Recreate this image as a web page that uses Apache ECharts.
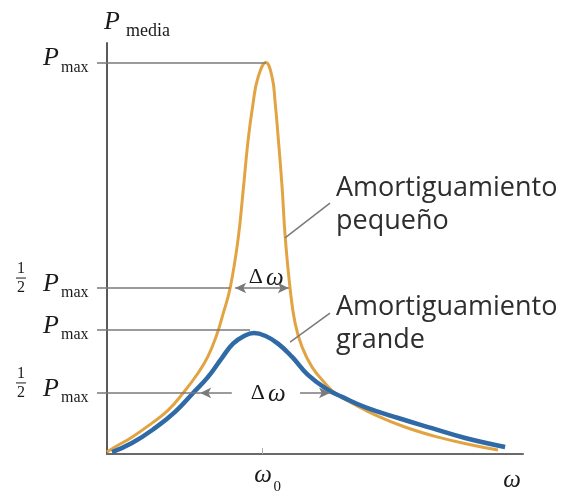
<!DOCTYPE html>
<html>
<head>
<meta charset="utf-8">
<script src="https://cdn.jsdelivr.net/npm/echarts@6/dist/echarts.min.js"></script>
<style>
html,body{margin:0;padding:0;background:#fff;}
#c{width:566px;height:495px;}
</style>
</head>
<body>
<div id="c"></div>
<script>
// ---- data (x: 0..100 frequency units, y: 0..1 = orange P_max) ----
const omega0 = 37.3;
const omegaEnd = 97.4;
const smallDamping = [[0,0.005],[1.9,0.018],[6.0,0.043],[10.8,0.079],[14.7,0.112],[18.3,0.156],[21.9,0.207],[24.3,0.250],[26.4,0.305],[27.9,0.358],[29.6,0.424],[31.5,0.548],[32.7,0.670],[33.9,0.800],[35.1,0.895],[36.3,0.962],[38.2,1.0],[39.7,0.962],[40.4,0.900],[41.1,0.815],[42.1,0.680],[42.8,0.560],[44.0,0.424],[45.2,0.335],[46.9,0.273],[49.3,0.222],[52.4,0.181],[54.8,0.156],[58.9,0.130],[64.4,0.100],[71.6,0.069],[79.6,0.043],[87.7,0.023],[94.0,0.010]];
const largeDamping = [[1.2,0.005],[6.0,0.028],[11.5,0.066],[16.3,0.107],[20.7,0.156],[24.3,0.197],[27.6,0.245],[30.3,0.282],[33.2,0.303],[35.3,0.309],[38.0,0.302],[41.1,0.282],[44.5,0.248],[48.3,0.202],[53.1,0.164],[56.5,0.146],[62.0,0.120],[70.0,0.092],[78.1,0.066],[86.1,0.041],[95.7,0.018]];
const yTickValues = [1.0, 0.424, 0.317, 0.156];
const yTickHalf = [false, true, false, true];
const yTickRefEnd = [38.2, 29.6, 34.4, 22.4];
const smallHalfArrow = [30.8, 43.7];
const largeHalfArrowL = [22.4, 30.0];
const largeHalfArrowR = [46.4, 53.6];
const deltaLabelSmall = [38.2, 0.424];
const deltaLabelLarge = [38.7, 0.156];
const leaderSmall = [[42.8,0.552],[53.6,0.641]];
const leaderLarge = [[44.0,0.286],[53.6,0.360]];
const labelSmallAt = [54.8, 0.72];
const labelLargeAt = [54.8, 0.418];
const labelSmallText = 'Amortiguamiento\npequeño';
const labelLargeText = 'Amortiguamiento\ngrande';

const refColor = '#7a7a7a';
const serif = '"Liberation Serif","DejaVu Serif",serif';

const markLines = [];
yTickValues.forEach((v,i)=>{
  markLines.push([{coord:[0,v],symbol:'none'},{coord:[yTickRefEnd[i],v],symbol:'none'}]);
});
markLines.push([{coord:[smallHalfArrow[0],0.424],symbol:'arrow'},{coord:[smallHalfArrow[1],0.424],symbol:'arrow'}]);
markLines.push([{coord:[largeHalfArrowL[0],0.156],symbol:'arrow'},{coord:[largeHalfArrowL[1],0.156],symbol:'none'}]);
markLines.push([{coord:[largeHalfArrowR[0],0.156],symbol:'none'},{coord:[largeHalfArrowR[1],0.156],symbol:'arrow'}]);
markLines.push([{coord:leaderSmall[0],symbol:'none'},{coord:leaderSmall[1],symbol:'none'}]);
markLines.push([{coord:leaderLarge[0],symbol:'none'},{coord:leaderLarge[1],symbol:'none'}]);

const chart = echarts.init(document.getElementById('c'), null, {renderer:'canvas'});
chart.setOption({
  animation:false,
  backgroundColor:'#fff',
  grid:{left:107,right:43,top:43,bottom:41},
  xAxis:{type:'value',min:0,max:100,
    axisLine:{show:true,lineStyle:{color:'#6a6a6a',width:2}},
    axisTick:{show:true,inside:true,length:6,customValues:[omega0],lineStyle:{color:'#aaa',width:1}},
    axisLabel:{show:false},splitLine:{show:false}},
  yAxis:{type:'value',min:0,max:1.05,
    axisLine:{show:true,lineStyle:{color:'#5a5a5a',width:2}},
    axisTick:{show:true,inside:false,length:10,customValues:yTickValues,lineStyle:{color:refColor,width:1.5}},
    axisLabel:{show:false},splitLine:{show:false}},
  series:[
    {type:'line',data:[],silent:true,
      markLine:{silent:true,symbolSize:[8,11],label:{show:false},
        lineStyle:{color:refColor,width:1.5,type:'solid'},data:markLines}},
    {type:'line',data:smallDamping,smooth:0.45,symbol:'none',z:3,
      lineStyle:{color:'#E2A443',width:3}},
    {type:'line',data:largeDamping,smooth:0.45,symbol:'none',z:4,
      lineStyle:{color:'#2F6AA6',width:4.5}}
  ]
});

function px(p){return chart.convertToPixel({xAxisIndex:0,yAxisIndex:0},p);}
const g = [];
const txt = (x,y,text,font,opts)=>Object.assign({type:'text',x:x,y:y,silent:true,
  style:Object.assign({text:text,font:font,fill:'#1a1a1a',align:'left',verticalAlign:'middle'},opts||{})});

// y tick labels
yTickValues.forEach((v,i)=>{
  const p = px([0,v]);
  const Y = p[1];
  g.push(txt(59,Y-4,'P','italic 26px '+serif,{align:'right'}));
  g.push(txt(61,Y+5,'max','16px '+serif));
  if(yTickHalf[i]){
    g.push(txt(21,Y-19,'1','16px '+serif,{align:'center'}));
    g.push({type:'line',silent:true,shape:{x1:16,y1:Y-10,x2:26,y2:Y-10},style:{stroke:'#1a1a1a',lineWidth:1}});
    g.push(txt(21,Y,'2','16px '+serif,{align:'center'}));
  }
});
// y axis name
const axisTop = px([0,1.05]);
g.push(txt(axisTop[0]-3,axisTop[1]-21,'P','italic 26px '+serif));
g.push(txt(axisTop[0]+19,axisTop[1]-12,'media','18px '+serif));
// x labels
const w0 = px([omega0,0]);
g.push(txt(w0[0]+1,w0[1]+21,'ω','italic 25px '+serif,{align:'center'}));
g.push(txt(w0[0]+15,w0[1]+33,'0','15px '+serif,{align:'center'}));
const we = px([omegaEnd,0]);
g.push(txt(we[0],we[1]+26,'ω','italic 25px '+serif,{align:'center'}));
// delta omega labels
[[deltaLabelSmall,-11],[deltaLabelLarge,0]].forEach(([d,dy])=>{
  const p = px(d);
  g.push(txt(p[0]-3,p[1]+dy,'Δ','22px '+serif,{align:'right'}));
  g.push(txt(p[0],p[1]+dy+1,'ω','italic 25px '+serif));
});
// damping labels
[[labelSmallAt,labelSmallText],[labelLargeAt,labelLargeText]].forEach(([d,t])=>{
  const p = px(d);
  g.push(txt(p[0]+1,p[1],t,'27px "Open Sans"',{verticalAlign:'top',fill:'#2e2e2e',lineHeight:33}));
});
chart.setOption({graphic:{elements:g}});
</script>
</body>
</html>
